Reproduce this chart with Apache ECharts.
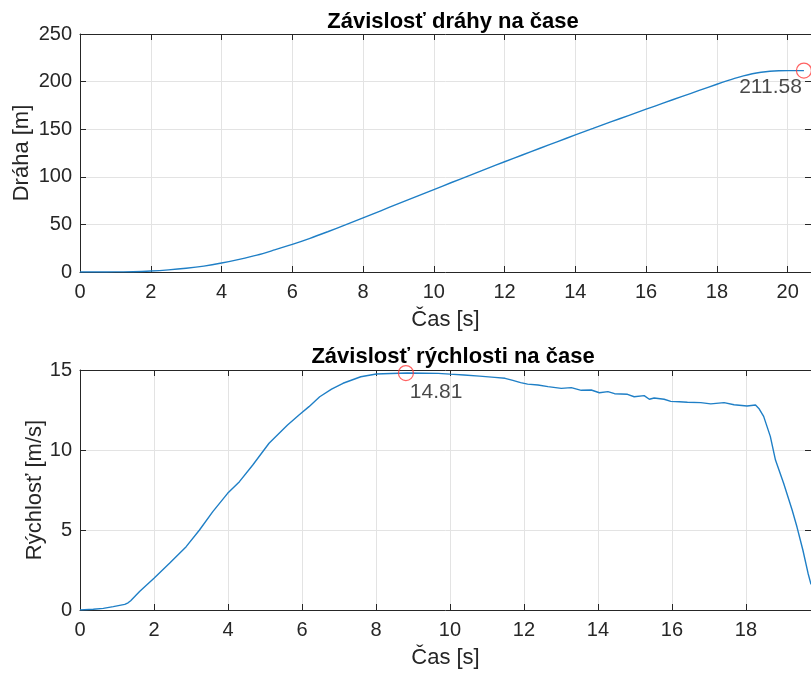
<!DOCTYPE html>
<html>
<head>
<meta charset="utf-8">
<script src="https://cdn.jsdelivr.net/npm/echarts@6/dist/echarts.min.js"></script>
<style>
  html, body { margin: 0; padding: 0; background: #fff; overflow: hidden; }
  #chart { width: 811px; height: 675px; }
</style>
</head>
<body>
<div id="chart"></div>
<script>
// ---- Data ----
const titles = ['Závislosť dráhy na čase', 'Závislosť rýchlosti na čase'];
const xName = 'Čas [s]';
const yNames = ['Dráha [m]', 'Rýchlosť [m/s]'];

// Distance vs time
const distTime = [0, 0.5, 1, 1.5, 2, 2.5, 3, 3.5, 4, 4.5, 5, 5.5, 6, 6.5, 7, 7.5, 8, 8.5, 9, 9.5,
  10, 10.5, 11, 11.5, 12, 12.5, 13, 13.5, 14, 14.5, 15, 15.5, 16, 16.5, 17, 17.5, 18, 18.3, 18.5,
  18.75, 19, 19.25, 19.5, 19.75, 20, 20.25, 20.46];
const distValues = [0, 0.02, 0.1, 0.3, 1.0, 2.2, 3.9, 6.2, 9.4, 13.3, 17.7, 23.2, 29.0, 35.4, 42.3,
  49.4, 56.8, 64.3, 71.8, 79.2, 86.6, 94.0, 101.3, 108.6, 115.8, 122.9, 130.0, 137.0, 144.0, 150.8,
  157.6, 164.3, 171.0, 177.6, 184.2, 190.7, 197.2, 201.0, 203.4, 206.0, 208.2, 209.8, 210.9, 211.45,
  211.58, 211.58, 211.58];

// Velocity vs time
const velTime = [0, 0.36, 0.63, 0.9, 1.21, 1.3, 1.37, 1.61, 2.0, 2.42, 2.87, 3.23, 3.59, 3.99, 4.31,
  4.67, 5.11, 5.61, 5.92, 6.19, 6.48, 6.8, 7.11, 7.59, 8.01, 8.4, 8.85, 9.3, 9.68, 10.0, 10.38, 10.8,
  11.21, 11.49, 11.7, 11.91, 12.1, 12.38, 12.65, 13.01, 13.28, 13.55, 13.82, 14.04, 14.27, 14.45,
  14.8, 14.98, 15.25, 15.39, 15.52, 15.79, 15.97, 16.2, 16.42, 16.78, 17.05, 17.41, 17.68, 18.03,
  18.26, 18.35, 18.48, 18.66, 18.8, 19.02, 19.25, 19.38, 19.54, 19.68, 19.76];
const velValues = [0, 0.05, 0.1, 0.21, 0.35, 0.45, 0.58, 1.15, 1.98, 2.92, 3.96, 5.0, 6.15, 7.29, 8.02,
  9.06, 10.42, 11.56, 12.19, 12.71, 13.33, 13.8, 14.17, 14.58, 14.75, 14.78, 14.81, 14.8, 14.79, 14.74,
  14.69, 14.62, 14.54, 14.48, 14.35, 14.21, 14.12, 14.06, 13.96, 13.85, 13.9, 13.73, 13.75, 13.58,
  13.65, 13.52, 13.48, 13.33, 13.4, 13.17, 13.25, 13.17, 13.04, 13.02, 12.98, 12.96, 12.88, 12.96,
  12.83, 12.75, 12.81, 12.6, 12.1, 10.85, 9.37, 7.92, 6.25, 5.2, 3.75, 2.3, 1.6];

// Max markers
const distMax = [20.46, 211.58];
const velMax = [8.81, 14.81];

// Axis ranges / ticks
const xRanges = [[0, 20.66, 2], [0, 19.76, 2]];
const yRanges = [[0, 250, 50], [0, 15, 5]];

// ---- Build chart ----
const FONT = 'Liberation Sans, Arial, Helvetica, sans-serif';
const AX = '#262626';
const GRIDC = '#e3e3e3';
const LINE = '#1f7fc6';

const grids = [
  { left: 80, top: 34, right: -3, height: 238 },
  { left: 80, top: 370, right: -3, height: 240 }
];

function xAxes(i, nameGap) {
  const [mn, mx, iv] = xRanges[i];
  const main = {
    type: 'value', gridIndex: i, position: 'bottom', min: mn, max: mx, interval: iv,
    name: xName, nameLocation: 'middle', nameGap: nameGap, nameMoveOverlap: false,
    nameTextStyle: { fontFamily: FONT, fontSize: 22, color: AX },
    axisLine: { show: true, lineStyle: { color: AX, width: 1 } },
    axisTick: { show: true, inside: true, length: 6, lineStyle: { color: AX } },
    axisLabel: {
      fontFamily: FONT, fontSize: 20, color: AX, margin: 10, showMaxLabel: false,
      formatter: v => (Math.abs(v / iv - Math.round(v / iv)) < 1e-6 ? String(v) : '')
    },
    splitLine: { show: true, lineStyle: { color: GRIDC, width: 1 } }
  };
  const top = {
    type: 'value', gridIndex: i, position: 'top', min: mn, max: mx, interval: iv,
    axisLine: { show: true, onZero: false, lineStyle: { color: AX, width: 1 } },
    axisTick: { show: true, inside: true, length: 6, lineStyle: { color: AX } },
    axisLabel: { show: false },
    splitLine: { show: false }
  };
  return [main, top];
}

function yAxes(i, nameGap) {
  const [mn, mx, iv] = yRanges[i];
  const main = {
    type: 'value', gridIndex: i, position: 'left', min: mn, max: mx, interval: iv,
    name: yNames[i], nameLocation: 'middle', nameGap: nameGap, nameRotate: 90, nameMoveOverlap: false,
    nameTextStyle: { fontFamily: FONT, fontSize: 22, color: AX },
    axisLine: { show: true, lineStyle: { color: AX, width: 1 } },
    axisTick: { show: true, inside: true, length: 6, lineStyle: { color: AX } },
    axisLabel: { fontFamily: FONT, fontSize: 20, color: AX, margin: 8 },
    splitLine: { show: true, lineStyle: { color: GRIDC, width: 1 } }
  };
  const right = {
    type: 'value', gridIndex: i, position: 'right', min: mn, max: mx, interval: iv,
    axisLine: { show: true, onZero: false, lineStyle: { color: AX, width: 1 } },
    axisTick: { show: true, inside: true, length: 6, lineStyle: { color: AX } },
    axisLabel: { show: false },
    splitLine: { show: false }
  };
  return [main, right];
}

const distData = distTime.map((t, k) => [t, distValues[k]]);
const velData = velTime.map((t, k) => [t, velValues[k]]);

const option = {
  animation: false,
  backgroundColor: '#fff',
  title: [
    { text: titles[0], left: 448, top: 6, textAlign: 'center',
      textStyle: { fontFamily: FONT, fontSize: 22, fontWeight: 'bold', color: '#000' } },
    { text: titles[1], left: 448, top: 341, textAlign: 'center',
      textStyle: { fontFamily: FONT, fontSize: 22, fontWeight: 'bold', color: '#000' } }
  ],
  grid: grids,
  xAxis: [...xAxes(0, 37), ...xAxes(1, 37)],
  yAxis: [...yAxes(0, 47), ...yAxes(1, 34)],
  series: [
    { type: 'line', xAxisIndex: 0, yAxisIndex: 0, data: distData, smooth: 0.3, showSymbol: false,
      lineStyle: { color: LINE, width: 1.4 }, z: 3 },
    { type: 'line', xAxisIndex: 2, yAxisIndex: 2, data: velData, showSymbol: false,
      lineStyle: { color: LINE, width: 1.4 }, z: 3 },
    { type: 'scatter', xAxisIndex: 0, yAxisIndex: 0, data: [distMax], symbol: 'circle', symbolSize: 15,
      itemStyle: { color: 'rgba(0,0,0,0)', borderColor: '#ff3b3b', borderWidth: 1.2 }, z: 4,
      label: { show: true, position: [6, 14], align: 'right', verticalAlign: 'top',
        formatter: () => distMax[1].toFixed(2), fontFamily: FONT, fontSize: 21, color: '#1a1a1a' } },
    { type: 'scatter', xAxisIndex: 2, yAxisIndex: 2, data: [velMax], symbol: 'circle', symbolSize: 15,
      itemStyle: { color: 'rgba(0,0,0,0)', borderColor: '#ff3b3b', borderWidth: 1.2 }, z: 4,
      label: { show: true, position: [12, 17], align: 'left', verticalAlign: 'top',
        formatter: () => velMax[1].toFixed(2), fontFamily: FONT, fontSize: 21, color: '#1a1a1a' } }
  ]
};

const chart = echarts.init(document.getElementById('chart'), null, { renderer: 'canvas' });
chart.setOption(option);
</script>
</body>
</html>
